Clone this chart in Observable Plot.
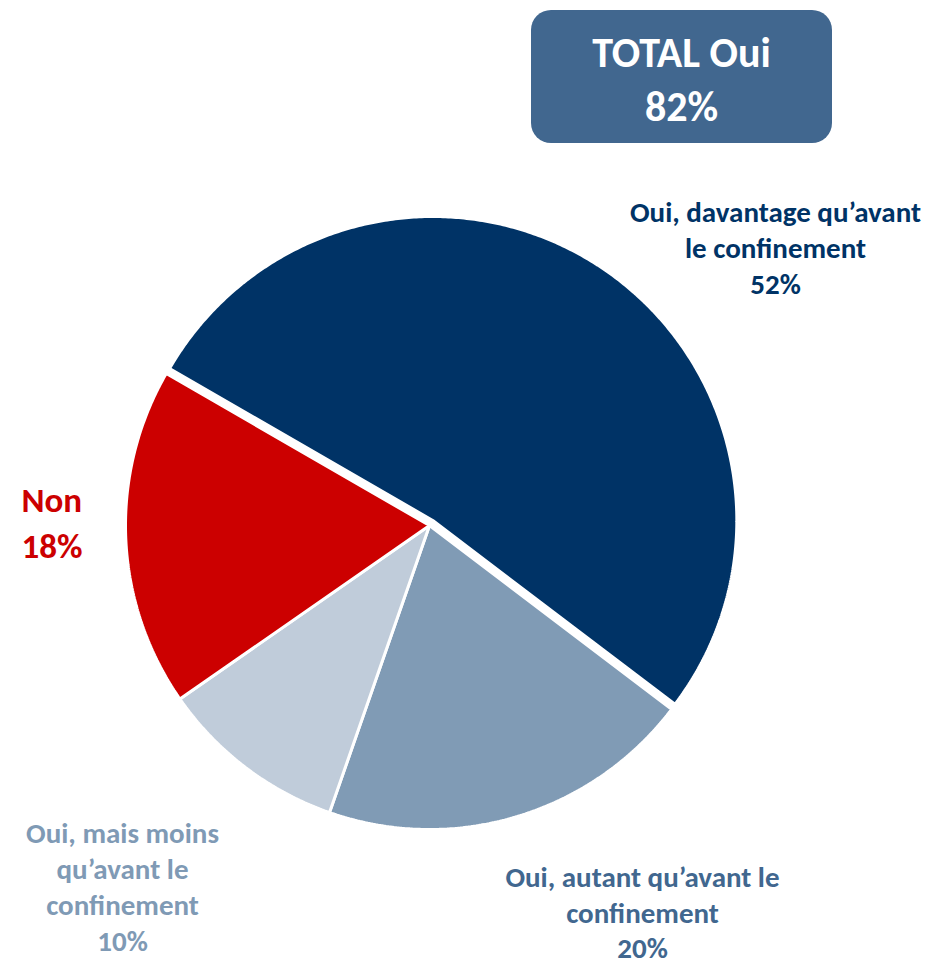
<!DOCTYPE html>
<html><head><meta charset="utf-8">
<script src="https://cdn.jsdelivr.net/npm/d3@7"></script>
<script src="https://cdn.jsdelivr.net/npm/@observablehq/plot@0.6"></script>
<style>body{margin:0;background:#fff}</style>
</head><body><div id="chart"></div>
<script>
// ---- data ----
const categories = [
  "Oui, davantage qu’avant le confinement",
  "Oui, autant qu’avant le confinement",
  "Oui, mais moins qu’avant le confinement",
  "Non"
];
const values = [52, 20, 10, 18];
const labelLines = [
  ["Oui, davantage qu’avant", "le confinement"],
  ["Oui, autant qu’avant le", "confinement"],
  ["Oui, mais moins", "qu’avant le", "confinement"],
  ["Non"]
];
const isOui = [true, true, true, false];
const totalLabel = "TOTAL Oui";

// ---- styles / layout ----
const sliceColors = ["#003366", "#809BB5", "#C0CCDA", "#CC0000"];
const labelColors = ["#003366", "#41678F", "#7F9AB5", "#CC0000"];
const boxColor = "#41678F";
const W = 946, H = 963, CX = 429, CY = 525, R = 304;
const explodePx = [6, 0, 0, 0];
const startDeg = -60;
const font = "Carlito, Lato, sans-serif";
// label block centres (pixels) and styles
const labelLayout = [
  {px: 775, py: 246, size: 29, lh: 1.24, anchor: "middle"},
  {px: 642, py: 911, size: 29, lh: 1.22, anchor: "middle"},
  {px: 122, py: 885, size: 29, lh: 1.24, anchor: "middle"},
  {px: 21,  py: 520, size: 35, lh: 1.31, anchor: "start"}
];
const boxLayout = {x1: 531, x2: 832, y1: 10, y2: 143, rx: 20, tx: 681, ty: 76, size: 42, lh: 1.29};

// pixel -> data units (radius = 1)
const X = px => (px - CX) / R;
const Y = py => (CY - py) / R;

// ---- pie geometry from values ----
const rows = categories.map((c, i) => ({cat: c, value: values[i], i}));
const arcs = d3.pie().sort(null).value(d => d.value)
  .startAngle(startDeg * Math.PI / 180)
  .endAngle(startDeg * Math.PI / 180 + 2 * Math.PI)(rows);

const pts = [];
for (const a of arcs) {
  const mid = (a.startAngle + a.endAngle) / 2;
  const off = explodePx[a.data.i] / R;
  const ox = off * Math.sin(mid), oy = off * Math.cos(mid);
  pts.push({cat: a.data.cat, x: ox, y: oy});
  const n = Math.max(8, Math.ceil((a.endAngle - a.startAngle) / (Math.PI / 360)));
  for (let k = 0; k <= n; k++) {
    const t = a.startAngle + (a.endAngle - a.startAngle) * k / n;
    pts.push({cat: a.data.cat, x: ox + Math.sin(t), y: oy + Math.cos(t)});
  }
}

const totalOui = d3.sum(values.filter((v, i) => isOui[i]));

const textMarks = rows.map((r, i) => {
  const L = labelLayout[i];
  return Plot.text([r], {
    x: () => X(L.px), y: () => Y(L.py),
    text: d => [...labelLines[i], d.value + "%"].join("\n"),
    fill: labelColors[i], fontSize: L.size, fontWeight: "bold", fontFamily: font,
    lineHeight: L.lh, lineAnchor: "middle", textAnchor: L.anchor
  });
});

const chart = Plot.plot({
  width: W, height: H,
  margin: 0,
  x: {domain: [X(0), X(W)], range: [0, W], axis: null},
  y: {domain: [Y(H), Y(0)], range: [H, 0], axis: null},
  color: {domain: categories, range: sliceColors},
  style: {background: "#fff"},
  marks: [
    Plot.line(pts, {x: "x", y: "y", z: "cat", fill: "cat", stroke: "white", strokeWidth: 3, curve: "linear-closed", strokeLinejoin: "miter"}),
    Plot.rect([totalOui], {x1: () => X(boxLayout.x1), x2: () => X(boxLayout.x2), y1: () => Y(boxLayout.y1), y2: () => Y(boxLayout.y2), fill: boxColor, rx: boxLayout.rx}),
    Plot.text([totalOui], {x: () => X(boxLayout.tx), y: () => Y(boxLayout.ty), text: d => totalLabel + "\n" + d + "%", fill: "white", fontSize: boxLayout.size, fontWeight: "bold", fontFamily: font, lineHeight: boxLayout.lh, lineAnchor: "middle"}),
    ...textMarks
  ]
});
document.getElementById("chart").appendChild(chart);
</script>
</body></html>
